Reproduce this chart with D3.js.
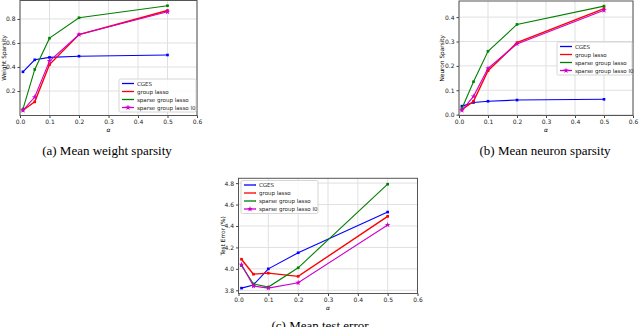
<!DOCTYPE html>
<html>
<head>
<meta charset="utf-8">
<script src="https://cdn.jsdelivr.net/npm/d3@7"></script>
<style>
  body { margin: 0; background: #fff; }
  svg { display: block; }
</style>
</head>
<body>
<div id="chart"></div>
<script>
let w = 640;
let h = 327;

// data
let alphas = [0.01, 0.05, 0.1, 0.2, 0.5];
let seriesNames = ["CGES", "group lasso", "sparse group lasso", "sparse group lasso l0"];
let seriesColors = ["#0000ff", "#ff0000", "#008000", "#cc00cc"];

let weightCGES = [0.36, 0.46, 0.48, 0.49, 0.50];
let weightGL = [0.04, 0.11, 0.42, 0.67, 0.87];
let weightSGL = [0.05, 0.38, 0.64, 0.81, 0.91];
let weightSGL0 = [0.04, 0.15, 0.45, 0.67, 0.86];

let neuronCGES = [0.035, 0.05, 0.055, 0.06, 0.063];
let neuronGL = [0.02, 0.055, 0.18, 0.295, 0.435];
let neuronSGL = [0.025, 0.135, 0.26, 0.37, 0.445];
let neuronSGL0 = [0.018, 0.075, 0.19, 0.29, 0.428];

let errorCGES = [3.82, 3.85, 4.00, 4.15, 4.53];
let errorGL = [4.09, 3.95, 3.96, 3.93, 4.49];
let errorSGL = [4.03, 3.86, 3.83, 4.01, 4.79];
let errorSGL0 = [4.04, 3.84, 3.82, 3.87, 4.41];

let xTicks = [0, 0.1, 0.2, 0.3, 0.4, 0.5, 0.6];
let weightTicks = [0.2, 0.4, 0.6, 0.8];
let neuronTicks = [0.0, 0.1, 0.2, 0.3, 0.4];
let errorTicks = [3.8, 4.0, 4.2, 4.4, 4.6, 4.8];

let viz = d3.select("#chart")
  .append("svg")
  .attr("width", w)
  .attr("height", h);

let tickFont = "DejaVu Sans, sans-serif";

function drawPanel(opt) {
  let xScale = d3.scaleLinear().domain([0, 0.6]).range([opt.left, opt.right]);
  let yScale = d3.scaleLinear().domain(opt.yDomain).range([opt.bottom, opt.top]);
  let g = viz.append("g");

  // grid
  g.selectAll(".gx").data(xTicks).enter().append("line")
    .attr("x1", d => xScale(d)).attr("x2", d => xScale(d))
    .attr("y1", opt.top).attr("y2", opt.bottom)
    .attr("stroke", "#e0e0e0").attr("stroke-width", 1);
  g.selectAll(".gy").data(opt.yTicks).enter().append("line")
    .attr("x1", opt.left).attr("x2", opt.right)
    .attr("y1", d => yScale(d)).attr("y2", d => yScale(d))
    .attr("stroke", "#e0e0e0").attr("stroke-width", 1);

  // axes
  let xAxis = d3.axisBottom(xScale).tickValues(xTicks).tickFormat(d3.format(".1f")).tickSize(2.5).tickPadding(1.5);
  let yAxis = d3.axisLeft(yScale).tickValues(opt.yTicks).tickFormat(d3.format(".1f")).tickSize(2.5).tickPadding(2);
  let xg = g.append("g").attr("transform", "translate(0," + opt.bottom + ")").call(xAxis);
  let yg = g.append("g").attr("transform", "translate(" + opt.left + ",0)").call(yAxis);
  [xg, yg].forEach(a => {
    a.select(".domain").remove();
    a.selectAll("text").attr("font-family", tickFont).attr("font-size", 6).attr("fill", "#222");
    a.selectAll("line").attr("stroke", "#444");
  });

  // frame
  g.append("rect")
    .attr("x", opt.left).attr("y", opt.top)
    .attr("width", opt.right - opt.left).attr("height", opt.bottom - opt.top)
    .attr("fill", "none").attr("stroke", "#555").attr("stroke-width", 1);

  // lines
  let line = d3.line().x(d => xScale(d.x)).y(d => yScale(d.y));
  opt.series.forEach((vals, i) => {
    let pts = alphas.map((a, j) => ({ x: a, y: vals[j] }));
    g.append("path").datum(pts)
      .attr("d", line)
      .attr("fill", "none")
      .attr("stroke", seriesColors[i])
      .attr("stroke-width", i == 1 ? 1.4 : 1.1);
    let sym = d3.symbol().type(i == 3 ? d3.symbolStar : d3.symbolSquare).size(i == 3 ? 10 : 7);
    g.selectAll(".pt" + i).data(pts).enter().append("path")
      .attr("d", sym)
      .attr("transform", d => "translate(" + xScale(d.x) + "," + yScale(d.y) + ")")
      .attr("fill", seriesColors[i]);
  });

  // axis labels
  g.append("text")
    .attr("x", xScale(0.3)).attr("y", opt.bottom + 16)
    .attr("text-anchor", "middle")
    .attr("font-family", tickFont).attr("font-size", 6).attr("font-style", "italic")
    .text("α");
  g.append("text")
    .attr("transform", "translate(" + opt.ylabelX + "," + ((opt.top + opt.bottom) / 2) + ") rotate(-90)")
    .attr("text-anchor", "middle")
    .attr("font-family", tickFont).attr("font-size", 5.8)
    .text(opt.ylabel);

  // legend
  let lg = g.append("g").attr("transform", "translate(" + opt.legendX + "," + opt.legendY + ")");
  lg.append("rect")
    .attr("width", opt.legendW).attr("height", 33)
    .attr("rx", 1.5)
    .attr("fill", "#fff").attr("fill-opacity", 0.85)
    .attr("stroke", "#ccc").attr("stroke-width", 0.8);
  seriesNames.forEach((name, i) => {
    let yy = 4.5 + i * 8;
    lg.append("line")
      .attr("x1", 3).attr("x2", 15).attr("y1", yy).attr("y2", yy)
      .attr("stroke", seriesColors[i]).attr("stroke-width", 1.3);
    if (i == 3) {
      lg.append("path").attr("d", d3.symbol().type(d3.symbolStar).size(10))
        .attr("transform", "translate(9," + yy + ")").attr("fill", seriesColors[i]);
    }
    lg.append("text")
      .attr("x", 18).attr("y", yy + 2)
      .attr("font-family", tickFont).attr("font-size", 5.5)
      .attr("fill", "#222")
      .text(name);
  });

  // caption
  viz.append("text")
    .attr("x", opt.captionX).attr("y", opt.captionY)
    .attr("text-anchor", "middle")
    .attr("font-family", "Liberation Serif, Times New Roman, serif")
    .attr("font-size", 13)
    .text(opt.caption);
}

drawPanel({
  left: 20, right: 197, top: 0.5, bottom: 115.5,
  yDomain: [-0.0035, 0.9535], yTicks: weightTicks,
  series: [weightCGES, weightGL, weightSGL, weightSGL0],
  ylabel: "Weight Sparsity", ylabelX: 6,
  legendX: 119, legendY: 79, legendW: 77,
  caption: "(a) Mean weight sparsity", captionX: 107, captionY: 155
});

drawPanel({
  left: 459, right: 633, top: 1, bottom: 115.5,
  yDomain: [-0.0034, 0.466], yTicks: neuronTicks,
  series: [neuronCGES, neuronGL, neuronSGL, neuronSGL0],
  ylabel: "Neuron Sparsity", ylabelX: 444,
  legendX: 557, legendY: 42, legendW: 75,
  caption: "(b) Mean neuron sparsity", captionX: 545, captionY: 155
});

drawPanel({
  left: 238.5, right: 417.5, top: 178.3, bottom: 293.5,
  yDomain: [3.77, 4.845], yTicks: errorTicks,
  series: [errorCGES, errorGL, errorSGL, errorSGL0],
  ylabel: "Test Error (%)", ylabelX: 225,
  legendX: 241, legendY: 180.5, legendW: 77,
  caption: "(c) Mean test error", captionX: 320, captionY: 330
});
</script>
</body>
</html>
